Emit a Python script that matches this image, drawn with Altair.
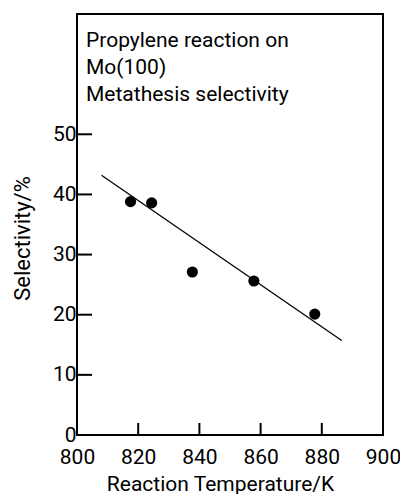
import altair as alt
import pandas as pd

# Measured selectivity vs. reaction temperature
temps_k = [817.5, 824.4, 837.7, 857.8, 877.7]
selectivity = [38.8, 38.6, 27.1, 25.6, 20.1]

# Straight-line trend drawn through the data
trend_temps = [808.0, 886.5]
trend_sel = [43.2, 15.7]

x_labels = [800, 820, 840, 860, 880, 900]
x_ticks = [820, 840, 860, 880]
y_labels = [0, 10, 20, 30, 40, 50]
y_ticks = [10, 20, 30, 40, 50]

title_lines = ["Propylene reaction on", "Mo(100)", "Metathesis selectivity"]

FONT = "Roboto"
FS = 21
W, H = 306, 421

points_df = pd.DataFrame({"T": temps_k, "S": selectivity})
trend_df = pd.DataFrame({"T": trend_temps, "S": trend_sel})
xtick_df = pd.DataFrame({"T": x_ticks})
ytick_df = pd.DataFrame({"S": y_ticks})

x_scale = alt.Scale(domain=[800, 900], nice=False, zero=False)
y_scale = alt.Scale(domain=[0, 70], nice=False)

# Data points, carrying the axis labels and titles
points = alt.Chart(points_df).mark_circle(color="black", opacity=1, size=125).encode(
    x=alt.X("T:Q", scale=x_scale, axis=alt.Axis(
        orient="bottom", values=x_labels, ticks=False, domain=False, grid=False,
        labelFont=FONT, labelFontSize=FS, labelColor="black", labelPadding=11,
        labelFlush=False, labelOverlap=False,
        title="Reaction Temperature/K", titleFont=FONT, titleFontSize=FS,
        titleFontWeight="normal", titleColor="black",
        titleX=143, titleY=55, titleBaseline="alphabetic", titleAlign="center")),
    y=alt.Y("S:Q", scale=y_scale, axis=alt.Axis(
        orient="left", values=y_labels, ticks=False, domain=False, grid=False,
        labelFont=FONT, labelFontSize=FS, labelColor="black", labelPadding=1,
        labelOverlap=False, labelFlush=False,
        title="Selectivity/%", titleFont=FONT, titleFontSize=22,
        titleFontWeight="normal", titleColor="black",
        titleX=-48, titleY=224, titleAngle=-90, titleBaseline="alphabetic",
        titleAlign="center")),
)

# Trend line
trend = alt.Chart(trend_df).mark_line(color="black", strokeWidth=1.3).encode(
    x="T:Q", y="S:Q"
)

# Inward-pointing tick marks on the bottom and left edges
xticks = alt.Chart(xtick_df).mark_rule(color="black", strokeWidth=2).encode(
    x="T:Q", y=alt.value(H - 12), y2=alt.value(H)
)
yticks = alt.Chart(ytick_df).mark_rule(color="black", strokeWidth=2).encode(
    y="S:Q", x=alt.value(0), x2=alt.value(15)
)

# Caption block in the upper-left corner of the frame
caption = alt.Chart(pd.DataFrame({"k": [0]})).mark_text(
    text=title_lines, align="left", baseline="top", lineHeight=27,
    font=FONT, fontSize=FS, color="black",
).encode(x=alt.value(9), y=alt.value(16))

chart = alt.layer(points, trend, xticks, yticks, caption).properties(
    width=W,
    height=H,
    autosize=alt.AutoSizeParams(type="none"),
    padding={"left": 77, "top": 14, "right": 17, "bottom": 59},
).configure(
    background="white"
).configure_view(
    stroke="black", strokeWidth=2
)

chart.save("out.html", embed_options={"renderer": "svg", "actions": False})
